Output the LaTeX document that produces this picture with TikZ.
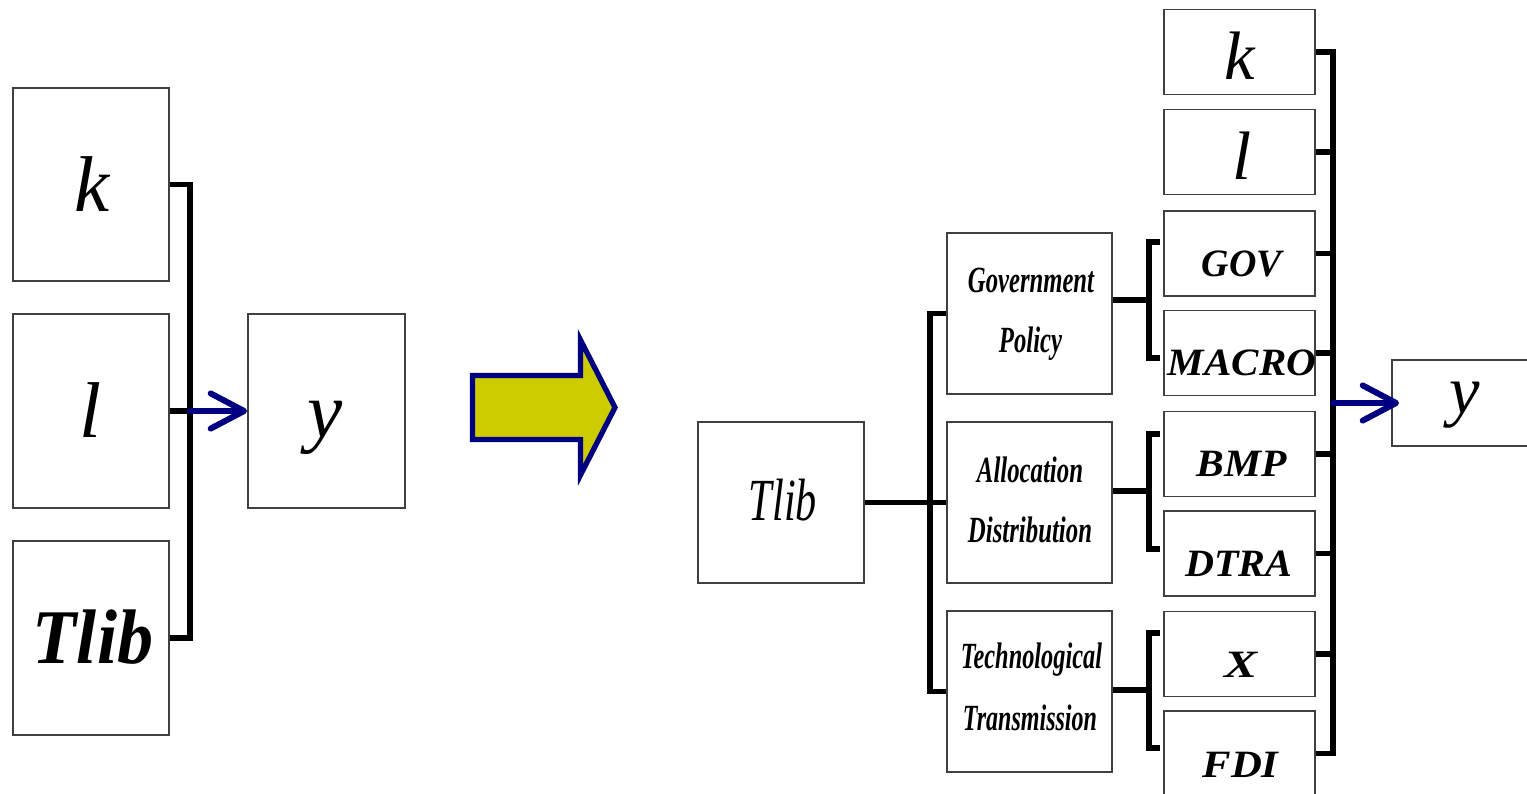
\documentclass[tikz,border=0pt]{standalone}
\usepackage{fontspec}
\usepackage{graphicx}
\setmainfont{Liberation Serif}
\usetikzlibrary{arrows.meta}
\definecolor{navyb}{RGB}{0,0,128}
\definecolor{olivey}{RGB}{204,204,0}
\newcommand{\fitw}[2]{\resizebox{#1}{\height}{#2}}
\tikzset{
  box/.style={draw=black!75, line width=0.5pt, fill=white, rectangle, inner sep=0pt},
  bigbox/.style={box, minimum width=1.56cm, minimum height=1.94cm},
  midbox/.style={box, minimum width=1.65cm, minimum height=1.61cm},
  rbox/.style={box, minimum width=1.51cm, minimum height=0.85cm},
  conn/.style={line width=1.6pt, line join=miter},
  barrow/.style={draw=navyb, line width=1.7pt, line cap=round, -{Straight Barb[length=9.5pt,width=10pt,round]}},
  txt/.style={anchor=base, inner sep=0pt},
  bigit/.style={txt, font=\fontsize{22.5}{26}\selectfont\itshape},
  bigbi/.style={txt, font=\fontsize{22}{26}\selectfont\bfseries\itshape},
  rit/.style={txt, font=\fontsize{19.5}{23}\selectfont\itshape},
  condt/.style={txt, font=\fontsize{10.5}{12}\selectfont\bfseries\itshape},
  capt/.style={txt, font=\fontsize{11}{13}\selectfont\bfseries\itshape},
  bigarrow/.style={fill=olivey, draw=navyb, line width=1.5pt, line join=miter}
}
\begin{document}
\begin{tikzpicture}[x=0.01cm,y=-0.01cm]
\useasboundingbox (0,0) rectangle (1527,794);
% ---------- left diagram ----------
\node[bigbox, minimum height=1.93cm] (kL) at (91,184.5) {};
\node[bigbox] (lL) at (91,411) {};
\node[bigbox] (TL) at (91,638) {};
\node[bigbox, minimum width=1.57cm] (yL) at (326.5,411) {};
\node[bigit] (kLt) at (92,212) {k};
\node[bigit] (lLt) at (90,437) {l};
\node[bigbi] (TLt) at (93,663) {\fitw{1.20cm}{Tlib}};
\node[bigit] (yLt) at (325,437) {y};
\coordinate (bL1) at (190,184.5);
\coordinate (bL2) at (190,638);
\draw[conn] (kL.east) -- (bL1) -- (bL2) -- (TL.east);
\draw[conn] (lL.east) -- (lL.east -| bL1);
\draw[barrow] (lL.east -| bL1) -- (yL.west);
% ---------- big arrow ----------
\path[bigarrow] (472.5,375.5) -- (580.5,375.5) -- (580.5,340) -- (615,407.5) -- (580.5,475) -- (580.5,439.5) -- (472.5,439.5) -- cycle;
% ---------- right diagram ----------
\node[midbox, minimum width=1.66cm] (TR) at (781,502.5) {};
\node[midbox] (GP) at (1029.5,313.5) {};
\node[midbox] (AD) at (1029.5,502.5) {};
\node[midbox] (TT) at (1029.5,691.5) {};
\node[rbox] (kR) at (1239.5,52) {};
\node[rbox] (lR) at (1239.5,152) {};
\node[rbox] (GOV) at (1239.5,253.5) {};
\node[rbox] (MAC) at (1239.5,353) {};
\node[rbox] (BMP) at (1239.5,454) {};
\node[rbox] (DTRA) at (1239.5,553.5) {};
\node[rbox] (X) at (1239.5,654) {};
\node[rbox] (FDI) at (1239.5,753.5) {};
\node[box, minimum width=1.48cm, minimum height=0.86cm] (yR) at (1466,403) {};
% texts
\node[txt, font=\fontsize{17}{20}\selectfont\itshape] (TRt) at (783,520) {\fitw{0.68cm}{Tlib}};
\node[condt] (GPt1) at (1031,293) {\fitw{1.26cm}{Government}};
\node[condt] (GPt2) at (1030.5,353) {\fitw{0.63cm}{Policy}};
\node[condt] (ADt1) at (1030,482) {\fitw{1.06cm}{Allocation}};
\node[condt] (ADt2) at (1030,542) {\fitw{1.24cm}{Distribution}};
\node[condt] (TTt1) at (1031.5,668) {\fitw{1.41cm}{Technological}};
\node[condt] (TTt2) at (1030,730) {\fitw{1.34cm}{Transmission}};
\node[rit] (kRt) at (1240,80) {k};
\node[rit] (lRt) at (1242,180) {l};
\node[capt] (GOVt) at (1242,277) {\fitw{0.80cm}{GOV}};
\node[capt] (MACt) at (1242,375) {\fitw{1.48cm}{MACRO}};
\node[capt] (BMPt) at (1241.5,476) {\fitw{0.90cm}{BMP}};
\node[capt] (DTRAt) at (1239,576) {\fitw{1.07cm}{DTRA}};
\node[capt] (Xt) at (1241,677) {\fitw{0.33cm}{X}};
\node[capt] (FDIt) at (1240.5,777) {\fitw{0.76cm}{FDI}};
\node[rit] (yRt) at (1465,413) {y};
% connectors
\coordinate (bM1) at (930,313.5);
\coordinate (bM2) at (930,691.5);
\draw[conn] (GP.west) -- (bM1) -- (bM2) -- (TT.west);
\draw[conn] (TR.east) -- (AD.west);
% brackets
\coordinate (g0) at (1149,300); \coordinate (g1) at (1160,242); \coordinate (g2) at (1160,358);
\draw[conn] (GP.east |- g0) -- (g0);
\draw[conn] (g1) -- (g1 -| g0) -- (g2 -| g0) -- (g2);
\coordinate (a0) at (1149,491); \coordinate (a1) at (1160,434); \coordinate (a2) at (1160,549);
\draw[conn] (AD.east |- a0) -- (a0);
\draw[conn] (a1) -- (a1 -| a0) -- (a2 -| a0) -- (a2);
\coordinate (t0) at (1149,690); \coordinate (t1) at (1160,633); \coordinate (t2) at (1160,748);
\draw[conn] (TT.east |- t0) -- (t0);
\draw[conn] (t1) -- (t1 -| t0) -- (t2 -| t0) -- (t2);
% right bus
\coordinate (bR) at (1333,0);
\draw[conn] (kR.east) -- (kR.east -| bR) -- (FDI.east -| bR) -- (FDI.east);
\foreach \n in {lR,GOV,MAC,BMP,DTRA,X} \draw[conn] (\n.east) -- (\n.east -| bR);
\draw[barrow] (yR.west -| bR) -- ([shift={(8,0)}]yR.west);
\end{tikzpicture}
\end{document}
